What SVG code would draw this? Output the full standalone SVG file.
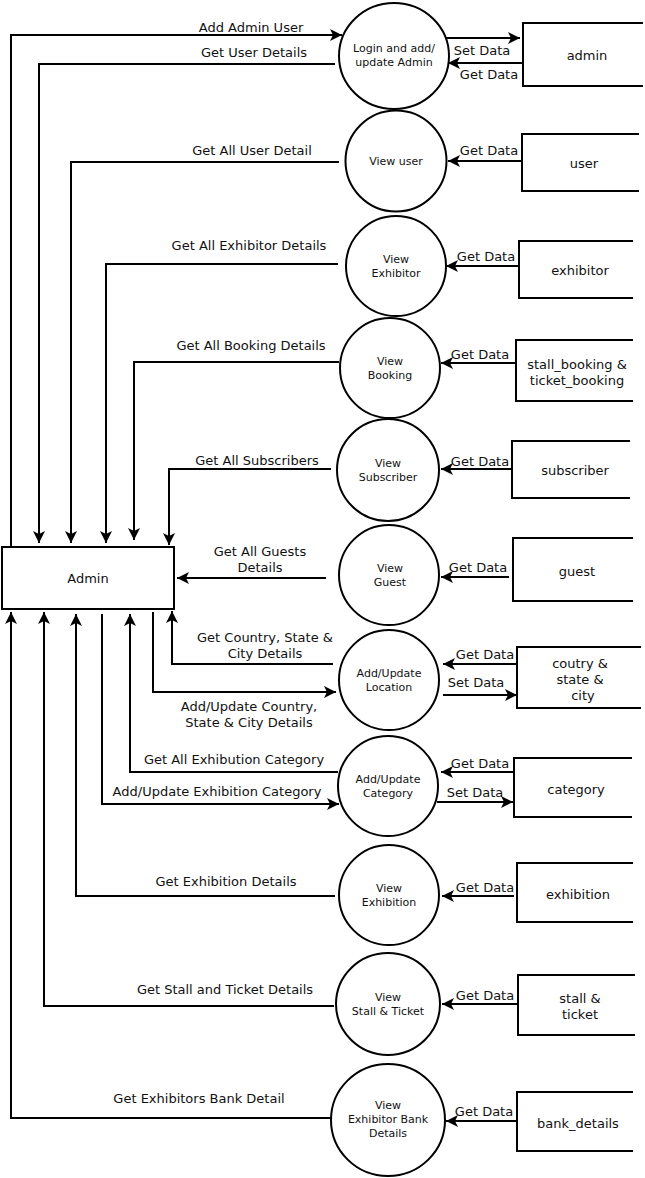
<svg xmlns="http://www.w3.org/2000/svg" width="645" height="1178" viewBox="0 0 645 1178">
<style>
text{font-family:"DejaVu Sans",sans-serif;fill:#111;text-anchor:middle}
.l{font-size:13px}
.c{font-size:11px}
.proc{fill:#fff;stroke:#000;stroke-width:2}
.store{fill:none;stroke:#000;stroke-width:2}
.conn path{fill:none;stroke:#000;stroke-width:2}
.conn .a{marker-end:url(#arr)}
</style>
<defs>
<marker id="arr" markerUnits="userSpaceOnUse" markerWidth="14" markerHeight="12" refX="12" refY="6" orient="auto">
<path d="M0,0 L12,6 L0,12 L3,6 Z" fill="#000"/>
</marker>
</defs>
<rect width="645" height="1178" fill="#fff"/>

<g class="conn" id="connectors">
<path class="a" d="M11,547 V35 H342"/>
<path class="a" d="M335,64 H39 V543"/>
<path class="a" d="M339,162 H71 V543"/>
<path class="a" d="M338,264 H106 V543"/>
<path class="a" d="M339,362 H134 V540"/>
<path class="a" d="M331,469 H169 V545"/>
<path class="a" d="M326,578 H177"/>
<path class="a" d="M333,664 H172 V611"/>
<path class="a" d="M153,612 V692 H336"/>
<path class="a" d="M338,772 H130 V614"/>
<path class="a" d="M102,614 V804 H339"/>
<path class="a" d="M335,896 H76 V614"/>
<path class="a" d="M334,1006 H44 V612"/>
<path class="a" d="M331,1118 H11 V612"/>

<path class="a" d="M446,38 H520"/>
<path class="a" d="M523,63 H448"/>
<path class="a" d="M522,161 H448"/>
<path class="a" d="M519,266 H446"/>
<path class="a" d="M516,363 H441"/>
<path class="a" d="M512,469 H441"/>
<path class="a" d="M509,577 H441"/>
<path class="a" d="M517,664 H443"/>
<path class="a" d="M443,695 H517"/>
<path class="a" d="M514,772 H441"/>
<path class="a" d="M437,802 H513"/>
<path class="a" d="M514,896 H442"/>
<path class="a" d="M518,1004 H442"/>
<path class="a" d="M517,1121 H446"/>

<text class="l" x="251" y="32">Add Admin User</text>
<text class="l" x="254" y="57">Get User Details</text>
<text class="l" x="252" y="155">Get All User Detail</text>
<text class="l" x="249" y="250">Get All Exhibitor Details</text>
<text class="l" x="251" y="350">Get All Booking Details</text>
<text class="l" x="257" y="465">Get All Subscribers</text>
<text class="l" x="260" y="556">Get All Guests</text>
<text class="l" x="260" y="572">Details</text>
<text class="l" x="265" y="642">Get Country, State &amp;</text>
<text class="l" x="265" y="658">City Details</text>
<text class="l" x="249" y="711">Add/Update Country,</text>
<text class="l" x="249" y="727">State &amp; City Details</text>
<text class="l" x="234" y="764">Get All Exhibution Category</text>
<text class="l" x="217" y="796">Add/Update Exhibition Category</text>
<text class="l" x="226" y="886">Get Exhibition Details</text>
<text class="l" x="225" y="994">Get Stall and Ticket Details</text>
<text class="l" x="199" y="1103">Get Exhibitors Bank Detail</text>

<text class="l" x="482" y="55">Set Data</text>
<text class="l" x="489" y="79">Get Data</text>
<text class="l" x="489" y="155">Get Data</text>
<text class="l" x="486" y="261">Get Data</text>
<text class="l" x="480" y="359">Get Data</text>
<text class="l" x="480" y="466">Get Data</text>
<text class="l" x="478" y="572">Get Data</text>
<text class="l" x="485" y="659">Get Data</text>
<text class="l" x="476" y="687">Set Data</text>
<text class="l" x="480" y="768">Get Data</text>
<text class="l" x="475" y="797">Set Data</text>
<text class="l" x="485" y="892">Get Data</text>
<text class="l" x="485" y="1000">Get Data</text>
<text class="l" x="484" y="1116">Get Data</text>
</g>

<g id="admin-entity">
<rect x="2" y="547" width="172" height="62" fill="#fff" stroke="#000" stroke-width="2"/>
<text class="l" x="88" y="583">Admin</text>
</g>

<g id="p-login"><ellipse class="proc" cx="394" cy="56" rx="55" ry="53"/>
<text class="c" x="394" y="52">Login and add/</text><text class="c" x="394" y="66">update Admin</text></g>
<g id="p-viewuser"><circle class="proc" cx="396" cy="161" r="50.5"/>
<text class="c" x="396" y="165">View user</text></g>
<g id="p-viewexhibitor"><circle class="proc" cx="396" cy="266" r="50"/>
<text class="c" x="396" y="263">View</text><text class="c" x="396" y="277">Exhibitor</text></g>
<g id="p-viewbooking"><circle class="proc" cx="390" cy="368" r="50"/>
<text class="c" x="390" y="365">View</text><text class="c" x="390" y="379">Booking</text></g>
<g id="p-viewsubscriber"><circle class="proc" cx="388" cy="470" r="51"/>
<text class="c" x="388" y="467">View</text><text class="c" x="388" y="481">Subscriber</text></g>
<g id="p-viewguest"><circle class="proc" cx="389" cy="575" r="50"/>
<text class="c" x="390" y="572">View</text><text class="c" x="390" y="586">Guest</text></g>
<g id="p-location"><circle class="proc" cx="389" cy="680" r="50"/>
<text class="c" x="389" y="677">Add/Update</text><text class="c" x="389" y="691">Location</text></g>
<g id="p-category"><circle class="proc" cx="388" cy="786" r="50"/>
<text class="c" x="388" y="783">Add/Update</text><text class="c" x="388" y="797">Category</text></g>
<g id="p-exhibition"><circle class="proc" cx="389" cy="895" r="50"/>
<text class="c" x="389" y="892">View</text><text class="c" x="389" y="906">Exhibition</text></g>
<g id="p-stallticket"><ellipse class="proc" cx="388" cy="1004" rx="52" ry="51"/>
<text class="c" x="388" y="1001">View</text><text class="c" x="388" y="1015">Stall &amp; Ticket</text></g>
<g id="p-bank"><ellipse class="proc" cx="388" cy="1120" rx="57" ry="56"/>
<text class="c" x="388" y="1109">View</text><text class="c" x="388" y="1123">Exhibitor Bank</text><text class="c" x="388" y="1137">Details</text></g>

<g id="ds-admin"><path class="store" d="M643,23 H523 V86 H643"/><text class="l" x="587" y="60">admin</text></g>
<g id="ds-user"><path class="store" d="M639,134 H522 V191 H639"/><text class="l" x="584" y="168">user</text></g>
<g id="ds-exhibitor"><path class="store" d="M633,241 H519 V298 H633"/><text class="l" x="580" y="275">exhibitor</text></g>
<g id="ds-booking"><path class="store" d="M633,340 H516 V401 H633"/><text class="l" x="577" y="369">stall_booking &amp;</text><text class="l" x="577" y="385">ticket_booking</text></g>
<g id="ds-subscriber"><path class="store" d="M630,441 H512 V498 H630"/><text class="l" x="575" y="475">subscriber</text></g>
<g id="ds-guest"><path class="store" d="M633,538 H513 V601 H633"/><text class="l" x="577" y="576">guest</text></g>
<g id="ds-location"><path class="store" d="M641,647 H517 V708 H641"/><text class="l" x="580" y="668">coutry &amp;</text><text class="l" x="580" y="684">state &amp;</text><text class="l" x="583" y="700">city</text></g>
<g id="ds-category"><path class="store" d="M632,758 H514 V817 H632"/><text class="l" x="576" y="794">category</text></g>
<g id="ds-exhibition"><path class="store" d="M633,863 H517 V922 H633"/><text class="l" x="578" y="899">exhibition</text></g>
<g id="ds-stallticket"><path class="store" d="M635,975 H518 V1035 H635"/><text class="l" x="580" y="1003">stall &amp;</text><text class="l" x="580" y="1019">ticket</text></g>
<g id="ds-bank"><path class="store" d="M633,1092 H517 V1151 H633"/><text class="l" x="578" y="1128">bank_details</text></g>
</svg>
